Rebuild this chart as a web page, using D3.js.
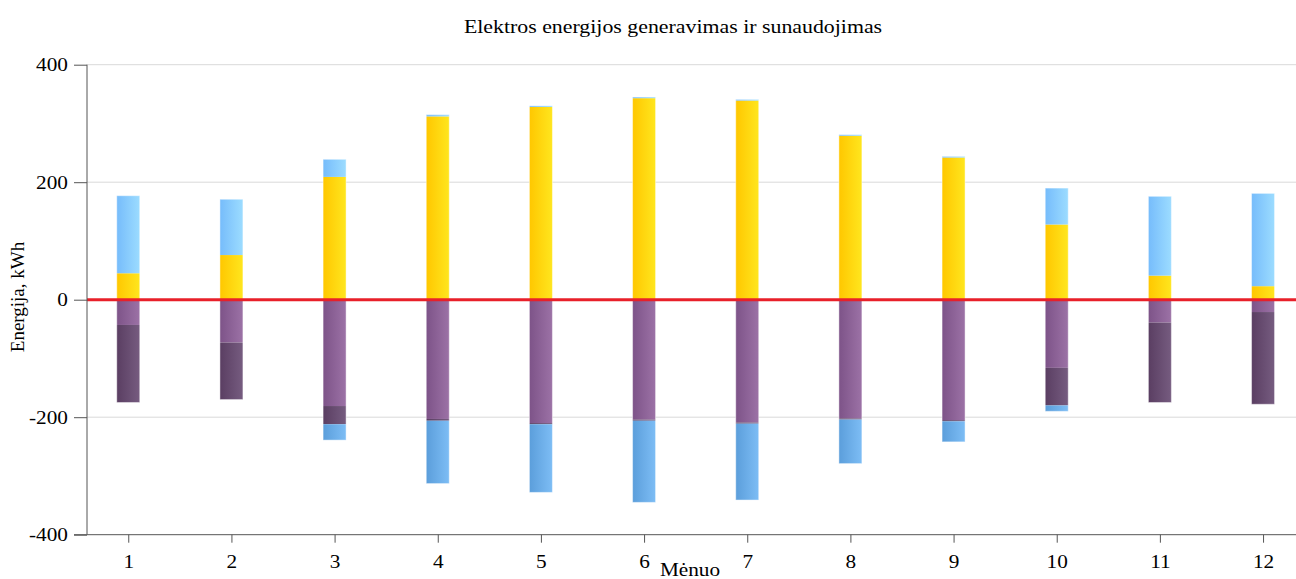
<!DOCTYPE html>
<html>
<head>
<meta charset="utf-8">
<script src="https://cdn.jsdelivr.net/npm/d3@7"></script>
<style>
  html, body { margin: 0; padding: 0; background: #fff; }
  svg { display: block; }
  text { font-family: "Liberation Serif", "Times New Roman", serif; fill: #000; }
</style>
</head>
<body>
<svg id="chart" width="1296" height="579"></svg>
<script>
// ---- data ----
const months = [1, 2, 3, 4, 5, 6, 7, 8, 9, 10, 11, 12];
// positive side
const pvGeneration = [45, 76, 209, 312, 328, 343, 339, 279, 242, 128, 41, 23];   // yellow
const gridImportUp = [132, 95, 30, 3, 2, 2, 2, 2, 2, 62, 135, 158];             // light blue (top)
// negative side
const selfConsumption = [-43, -73, -181, -203, -210, -204, -209, -202, -205, -116, -39, -21]; // light purple
const gridConsumption = [-132, -97, -31, -3, -2, -2, -2, -2, -2, -64, -136, -157];          // dark purple
const gridExport = [0, 0, -27, -107, -116, -139, -130, -75, -35, -10, 0, 0];                // blue (bottom)
const yTicks = [-400, -200, 0, 200, 400];
const titleText = "Elektros energijos generavimas ir sunaudojimas";
const yLabel = "Energija, kWh";
const xLabel = "Mėnuo";

// ---- layout ----
const SX = 1.15; // horizontal text stretch seen in the reference
const svg = d3.select("#chart");
const x = d3.scaleLinear().domain([0.6, 12.3]).range([87, 1294]);
const y = d3.scaleLinear().domain([-400, 400]).range([534.7, 64.7]);
const barW = 23;

// gradients
const defs = svg.append("defs");
function grad(id, c1, c2) {
  const g = defs.append("linearGradient").attr("id", id)
    .attr("x1", "0%").attr("x2", "100%").attr("y1", "0%").attr("y2", "0%");
  g.append("stop").attr("offset", "0%").attr("stop-color", c1);
  g.append("stop").attr("offset", "100%").attr("stop-color", c2);
}
grad("gYellow", "#ffc700", "#ffe61e");
grad("gBlueUp", "#76bcfb", "#9cdcff");
grad("gBlueDown", "#5b9edb", "#7dbdf5");
grad("gPurple", "#7d5388", "#9c72a6");
grad("gDark", "#5a3e62", "#765c80");

// grid lines
svg.append("g").selectAll("line").data(yTicks.filter(d => d !== -400)).join("line")
  .attr("x1", 87).attr("x2", 1296)
  .attr("y1", d => y(d)).attr("y2", d => y(d))
  .attr("stroke", "#d9d9d9").attr("stroke-width", 1);

// stacked series
const series = [
  { vals: pvGeneration, base: months.map(() => 0), fill: "url(#gYellow)" },
  { vals: gridImportUp, base: pvGeneration, fill: "url(#gBlueUp)" },
  { vals: selfConsumption, base: months.map(() => 0), fill: "url(#gPurple)" },
  { vals: gridConsumption, base: selfConsumption, fill: "url(#gDark)" },
  { vals: gridExport, base: selfConsumption.map((v, i) => v + gridConsumption[i]), fill: "url(#gBlueDown)" }
];
const barsG = svg.append("g");
series.forEach(s => {
  const data = months.map((m, i) => ({ m, y0: s.base[i], y1: s.base[i] + s.vals[i] }))
    .filter(d => d.y0 !== d.y1);
  barsG.append("g").selectAll("rect").data(data).join("rect")
    .attr("x", d => x(d.m) - barW / 2)
    .attr("width", barW)
    .attr("y", d => Math.min(y(d.y0), y(d.y1)))
    .attr("height", d => Math.abs(y(d.y0) - y(d.y1)))
    .attr("fill", s.fill);
});
// faint light outline around each full bar (top and bottom stacks)
const outline = [
  { top: months.map((m, i) => pvGeneration[i] + gridImportUp[i]), bottom: months.map(() => 0) },
  { top: months.map(() => 0), bottom: months.map((m, i) => selfConsumption[i] + gridConsumption[i] + gridExport[i]) }
];
outline.forEach(o => {
  barsG.append("g").selectAll("rect").data(months).join("rect")
    .attr("x", (m) => x(m) - barW / 2)
    .attr("width", barW)
    .attr("y", (m, i) => y(o.top[i]))
    .attr("height", (m, i) => y(o.bottom[i]) - y(o.top[i]))
    .attr("fill", "none")
    .attr("stroke", "rgba(255,255,255,0.45)")
    .attr("stroke-width", 1);
});

// zero line
svg.append("line")
  .attr("x1", 87).attr("x2", 1296).attr("y1", y(0)).attr("y2", y(0))
  .attr("stroke", "#e8202a").attr("stroke-width", 3);

// y axis
const yAxis = d3.axisLeft(y).tickValues(yTicks).tickSize(13).tickPadding(5).tickFormat(d => String(d));
const yg = svg.append("g").attr("transform", "translate(87,0)").call(yAxis);
yg.select(".domain").attr("stroke", "#555").attr("d", `M0,${y(400)}V${y(-400)}`);
yg.selectAll(".tick line").attr("stroke", "#555");
yg.selectAll(".tick text").attr("font-size", 18.5).attr("font-family", "Liberation Serif, serif").attr("fill", "#000")
  .attr("x", -19 / SX).attr("transform", `scale(${SX},1)`);

// x axis
const xAxis = d3.axisBottom(x).tickValues(months).tickSize(8).tickPadding(12).tickFormat(d => String(d));
const xg = svg.append("g").attr("transform", `translate(0,${y(-400)})`).call(xAxis);
xg.select(".domain").attr("stroke", "#555").attr("d", `M74,0H1296`);
xg.selectAll(".tick line").attr("stroke", "#555");
xg.selectAll(".tick text").attr("font-size", 18.5).attr("font-family", "Liberation Serif, serif").attr("fill", "#000")
  .attr("transform", `scale(${SX},1)`);

// title and axis labels
svg.append("text").attr("transform", `translate(673,33) scale(${SX},1)`).attr("text-anchor", "middle")
  .attr("font-size", 19).text(titleText);
svg.append("text").attr("transform", `translate(24,297) rotate(-90)`).attr("text-anchor", "middle")
  .attr("font-size", 19).text(yLabel);
svg.append("text").attr("transform", `translate(690,576) scale(${SX},1)`).attr("text-anchor", "middle")
  .attr("font-size", 18.5).text(xLabel);
</script>
</body>
</html>
